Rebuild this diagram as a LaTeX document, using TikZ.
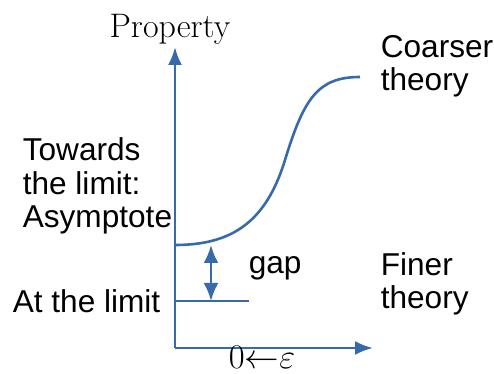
\documentclass[tikz,border=0pt]{standalone}
\usepackage{fontspec}
\usetikzlibrary{arrows.meta}
\newfontfamily\labelfont{Liberation Sans}
\definecolor{axisblue}{RGB}{54,106,170}

\begin{document}
\begin{tikzpicture}[x=0.5pt,y=-0.5pt,style=thick,
    axis/.style={draw=axisblue,line width=1.3pt},
    >={Latex[length=9pt,width=7pt]},
    lbl/.style={font=\labelfont\fontsize{15.8}{16.6}\selectfont,align=left,inner sep=0pt},
    ser/.style={font=\fontsize{17}{20}\selectfont,inner sep=0pt}]

    \useasboundingbox (0,0) rectangle (494,374);

    % axes
    \coordinate (O) at (175,348);
    \coordinate (Ytip) at (175,47);
    \coordinate (Xtip) at (373,348);
    \draw[axis,->] (O) to (Ytip);
    \draw[axis,->] (O) to (Xtip);

    \node[ser] (Prop) at (170,29) {Property};
    \node[ser] (Eps) at (262,357) {$0{\leftarrow}\varepsilon$};

    % coarser curve and limit line
    \coordinate (Cstart) at (175,245);
    \coordinate (Cmid) at (285,160);
    \coordinate (Cend) at (360,77);
    \draw[axis] (Cstart) .. controls (232,245) and (266,222) .. (Cmid)
                         .. controls (304,98) and (318,77) .. (Cend);
    \coordinate (Lstart) at (175,301);
    \coordinate (Lend) at (249,301);
    \draw[axis] (Lstart) to (Lend);

    % gap
    \coordinate (Gtop) at (211,245);
    \coordinate (Gbot) at (211,301);
    \draw[axis,{Latex[length=9pt,width=7.5pt]}-{Latex[length=9pt,width=7.5pt]}] (Gtop) to (Gbot);
    \node[lbl,anchor=west] (Gap) at (248,268) {gap};

    % labels
    \node[lbl,anchor=west] (Towards) at (22,186) {Towards\\the limit:\\Asymptote};
    \node[lbl,anchor=west] (AtLimit) at (12,301) {At the limit};
    \node[lbl,anchor=west] (Coarser) at (380,66) {Coarser\\theory};
    \node[lbl,anchor=west] (Finer) at (380,284) {Finer\\theory};

\end{tikzpicture}
\end{document}
